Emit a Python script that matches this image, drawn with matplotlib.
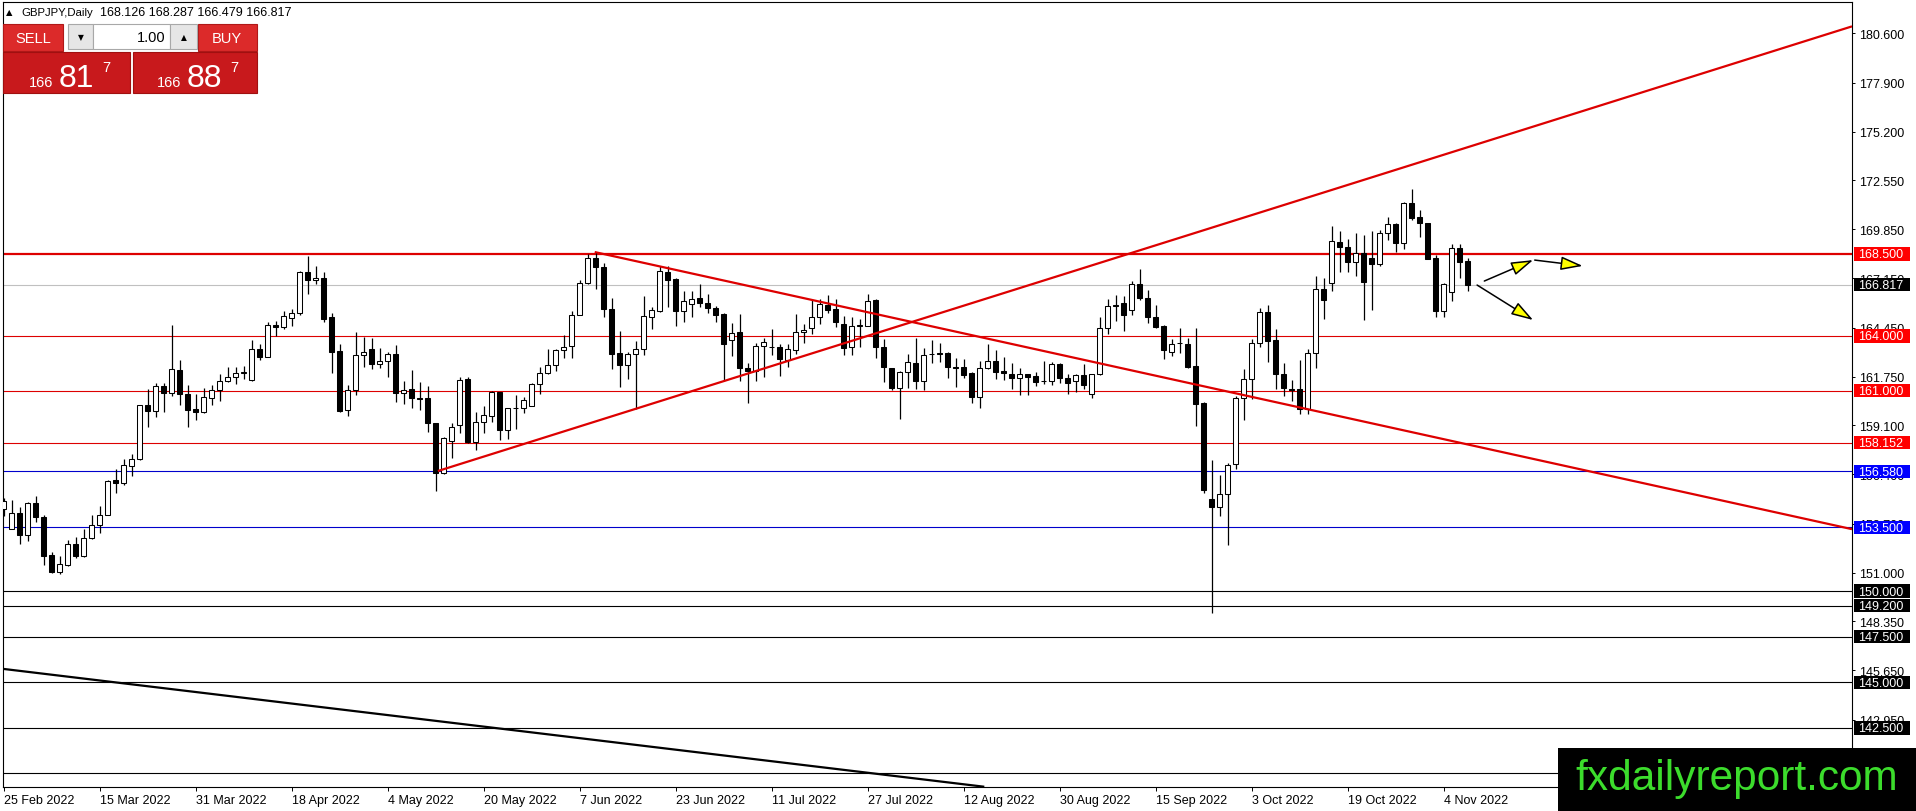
import matplotlib
matplotlib.use("Agg")
import matplotlib.pyplot as plt
import matplotlib.patches as mpatches
from matplotlib.transforms import blended_transform_factory
import pandas as pd

plt.rcParams['font.family'] = ['Liberation Sans', 'DejaVu Sans']

W, H = 1916, 812

# daily GBPJPY candles, 25 Feb 2022 .. 9 Nov 2022
opens = [154.53, 153.43, 154.31, 153.10, 154.86, 154.09, 152.00, 151.05, 151.44, 152.61,
         151.93, 152.94, 153.63, 154.20, 156.08, 155.94, 156.87, 157.23, 160.20, 159.89,
         161.28, 160.87, 162.15, 160.84, 159.98, 159.85, 160.62, 161.02, 161.55, 161.77,
         161.95, 161.59, 163.29, 162.87, 164.59, 164.48, 164.97, 165.23, 167.49, 167.04,
         167.17, 165.03, 163.16, 159.92, 161.02, 162.94, 163.27, 162.48, 162.61, 163.01,
         160.86, 161.08, 160.58, 160.58, 159.21, 156.47, 158.22, 159.10, 161.64, 158.17,
         159.27, 159.61, 160.91, 158.85, 160.03, 160.03, 160.18, 161.35, 161.99, 162.39,
         163.22, 163.47, 165.17, 166.89, 168.26, 167.77, 165.48, 163.05, 162.43, 163.01,
         163.27, 165.03, 165.37, 167.49, 167.13, 165.35, 165.76, 166.07, 165.79, 165.52,
         165.19, 163.78, 164.20, 162.23, 162.10, 163.47, 163.40, 163.40, 162.67, 163.21,
         164.24, 164.46, 165.06, 165.72, 165.50, 164.68, 163.41, 164.57, 164.57, 165.96,
         163.41, 162.23, 161.17, 162.04, 162.54, 161.55, 163.00, 163.08, 163.08, 162.32,
         162.32, 161.99, 160.67, 162.23, 162.63, 162.10, 161.90, 161.71, 161.90, 161.81,
         161.55, 161.50, 162.45, 161.71, 161.50, 161.84, 160.84, 161.90, 164.46, 165.72,
         165.79, 165.44, 166.87, 166.10, 165.06, 164.55, 163.14, 163.60, 163.58, 162.34,
         160.32, 155.08, 154.64, 155.35, 156.96, 160.58, 161.62, 163.63, 165.33, 163.76,
         161.93, 161.10, 161.07, 159.98, 163.05, 166.58, 166.93, 169.16, 168.87, 168.08,
         168.54, 168.26, 167.93, 169.63, 170.15, 169.09, 171.28, 170.55, 170.18, 168.26,
         165.34, 166.40, 168.81, 168.126]
highs = [155.13, 154.99, 154.64, 154.90, 155.21, 154.18, 152.17, 151.95, 152.79, 152.96,
         153.39, 154.16, 154.67, 156.12, 156.69, 157.23, 157.51, 160.23, 161.07, 161.40,
         161.44, 164.59, 162.70, 161.33, 160.82, 161.17, 161.29, 161.93, 162.28, 162.30,
         162.35, 163.78, 163.56, 164.77, 164.84, 165.37, 165.50, 167.55, 168.39, 167.84,
         167.49, 165.25, 163.54, 161.31, 164.20, 163.93, 163.86, 163.36, 163.14, 163.51,
         161.53, 162.14, 161.46, 161.28, 159.25, 158.44, 159.21, 161.77, 161.73, 159.85,
         160.14, 160.97, 160.95, 160.05, 160.77, 160.67, 161.41, 162.32, 163.27, 163.29,
         164.04, 165.39, 167.07, 168.48, 168.61, 168.02, 166.07, 164.26, 163.11, 163.73,
         166.18, 165.56, 167.84, 167.81, 167.15, 166.47, 166.45, 166.85, 166.29, 165.65,
         165.25, 164.73, 165.20, 162.54, 163.60, 163.91, 164.40, 163.54, 163.54, 165.19,
         164.68, 166.01, 166.01, 166.23, 166.01, 165.10, 165.06, 164.95, 166.32, 166.05,
         163.85, 162.25, 162.05, 163.03, 163.91, 163.31, 163.80, 163.63, 163.10, 162.77,
         162.74, 162.01, 162.61, 163.54, 163.21, 162.87, 162.50, 162.26, 161.92, 162.03,
         162.63, 162.57, 162.50, 161.90, 161.90, 162.45, 161.92, 165.06, 166.01, 166.27,
         166.21, 167.00, 167.66, 166.50, 165.68, 164.59, 163.82, 164.42, 163.91, 164.42,
         160.40, 157.20, 156.36, 157.05, 160.71, 162.17, 163.85, 165.55, 165.68, 164.40,
         162.54, 161.59, 162.67, 163.27, 167.26, 167.17, 170.04, 169.76, 169.30, 169.63,
         169.54, 169.76, 169.82, 170.55, 170.17, 171.32, 172.07, 170.91, 170.22, 168.45,
         166.93, 169.03, 169.05, 168.287]
lows = [154.13, 153.40, 152.61, 152.77, 153.80, 151.44, 150.98, 150.93, 151.38, 151.82,
        151.88, 152.88, 153.21, 154.16, 155.37, 155.81, 156.32, 157.20, 159.01, 159.56,
        159.83, 160.71, 160.20, 159.01, 159.39, 159.79, 160.20, 160.43, 161.48, 161.35,
        161.62, 161.55, 162.69, 162.85, 164.00, 164.37, 164.57, 165.12, 166.31, 166.85,
        164.75, 161.99, 159.85, 159.58, 160.78, 162.32, 162.21, 162.26, 161.72, 160.40,
        160.24, 160.07, 159.94, 158.75, 155.52, 156.41, 157.33, 158.66, 158.11, 157.75,
        158.66, 159.30, 158.30, 158.33, 158.90, 159.76, 160.18, 160.82, 161.92, 162.05,
        162.81, 162.81, 165.15, 166.85, 166.60, 165.06, 162.17, 161.22, 161.66, 159.98,
        162.98, 164.40, 165.30, 165.61, 164.57, 164.75, 165.06, 165.61, 165.28, 164.75,
        161.53, 162.92, 161.53, 160.34, 161.53, 161.75, 162.96, 161.81, 162.32, 163.03,
        163.63, 164.13, 164.68, 165.28, 164.49, 162.96, 162.96, 163.41, 164.57, 162.79,
        161.48, 161.02, 159.43, 161.17, 161.11, 161.04, 162.54, 162.57, 161.68, 161.22,
        161.71, 160.34, 160.07, 162.17, 161.66, 161.59, 161.07, 160.76, 160.76, 161.26,
        161.35, 161.31, 161.40, 160.84, 160.93, 161.11, 160.62, 161.88, 164.09, 164.82,
        164.27, 165.13, 165.99, 164.73, 164.42, 162.72, 162.90, 163.09, 162.23, 159.06,
        155.41, 148.82, 154.13, 152.54, 156.69, 159.39, 160.56, 163.40, 162.57, 161.07,
        160.71, 160.43, 159.70, 159.70, 162.26, 164.93, 166.49, 167.53, 167.53, 167.29,
        164.88, 165.43, 167.81, 169.27, 168.63, 168.79, 170.37, 169.40, 168.21, 165.04,
        165.06, 165.94, 167.20, 166.479]
closes = [154.95, 154.31, 153.10, 154.86, 154.09, 151.93, 151.05, 151.51, 152.61, 151.93,
          152.94, 153.63, 154.20, 156.06, 155.94, 156.94, 157.27, 160.20, 159.89, 161.28,
          160.87, 162.21, 160.82, 159.94, 159.85, 160.67, 161.02, 161.55, 161.77, 161.99,
          162.00, 163.29, 162.87, 164.59, 164.48, 165.08, 165.26, 167.49, 167.04, 167.17,
          164.95, 163.14, 159.89, 161.02, 162.94, 163.11, 162.48, 162.61, 163.01, 160.86,
          161.02, 160.58, 160.56, 159.21, 156.47, 158.41, 159.03, 161.57, 158.17, 159.27,
          159.67, 160.91, 158.85, 160.03, 160.05, 160.47, 161.35, 161.99, 162.39, 163.22,
          163.38, 165.17, 166.89, 168.26, 167.77, 165.48, 163.03, 162.43, 163.01, 163.27,
          165.08, 165.41, 167.57, 167.09, 165.35, 165.90, 166.05, 165.79, 165.52, 165.14,
          163.54, 164.15, 162.23, 162.10, 163.47, 163.69, 163.38, 162.72, 163.27, 164.24,
          164.31, 165.06, 165.77, 165.43, 164.79, 163.31, 164.57, 164.58, 165.92, 163.40,
          162.30, 161.17, 162.03, 162.59, 161.55, 162.96, 163.03, 163.03, 162.32, 162.26,
          161.84, 160.67, 162.26, 162.63, 162.04, 161.99, 161.71, 161.90, 161.77, 161.48,
          161.53, 162.45, 161.68, 161.40, 161.84, 161.31, 161.90, 164.46, 165.66, 165.64,
          165.15, 166.87, 166.07, 165.04, 164.49, 163.21, 163.58, 163.62, 162.30, 160.29,
          155.55, 154.64, 155.35, 156.93, 160.58, 161.62, 163.63, 165.33, 163.73, 161.93,
          161.17, 161.05, 159.98, 163.05, 166.60, 165.98, 169.21, 168.90, 168.08, 168.54,
          166.98, 167.93, 169.63, 170.15, 169.09, 171.28, 170.49, 170.18, 168.24, 165.34,
          166.84, 168.81, 168.08, 166.817]

first_day = '2022-02-25'
label_step = 12

# horizontal levels
red_levels = [168.5, 164.0, 161.0, 158.152]
blue_levels = [156.58, 153.5]
black_levels = [150.0, 149.2, 147.5, 145.0, 142.5, 140.0]
last_price = 166.817

price_ticks = [180.6, 177.9, 175.2, 172.55, 169.85, 167.15, 164.45, 161.75, 159.1,
               156.4, 153.7, 151.0, 148.35, 145.65, 142.95, 140.25]

# trend lines as (bar index, price) end points
rising_line = ([54.3, 231.06], [156.59, 180.98])
falling_line = ([73.9, 231.06], [168.6, 153.4])
lower_line = ([-0.125, 122.6], [145.74, 139.27])

# forecast arrows (bar index, price)
arrows = [((185.1, 167.01), (191.2, 168.16)),
          ((191.4, 168.16), (197.4, 167.84)),
          ((184.2, 166.79), (191.2, 164.87))]

header_symbol = 'GBPJPY,Daily'
header_ohlc = '168.126 168.287 166.479 166.817'
lot_size = '1.00'
bid_parts = ('166', '81', '7')
ask_parts = ('166', '88', '7')
site = 'fxdailyreport.com'

fig = plt.figure(figsize=(W / 100, H / 100), dpi=100)
ax = fig.add_axes([2.5 / W, 1 - 787.7 / H, (1852 - 2.5) / W, (787.7 - 2.7) / H])

n = len(opens)
idx = list(range(n))

# wicks and bodies
ax.vlines(idx, lows, highs, color='black', lw=0.9, zorder=3)
bottoms = [min(o, c) for o, c in zip(opens, closes)]
heights = [max(abs(c - o), 0.02) for o, c in zip(opens, closes)]
colors = ['white' if c >= o else 'black' for o, c in zip(opens, closes)]
ax.bar(idx, heights, 0.56, bottoms, color=colors, edgecolor='black', lw=0.75, zorder=4)

# level lines
for i, p in enumerate(red_levels):
    ax.axhline(p, color='#dd0000', lw=1.6 if i == 0 else 0.8, zorder=2)
for p in blue_levels:
    ax.axhline(p, color='#0000cc', lw=0.8, zorder=2)
for p in black_levels:
    ax.axhline(p, color='black', lw=0.8, zorder=2)
ax.axhline(last_price, color='#c0c0c0', lw=0.8, zorder=1)

# trend lines
ax.plot(*rising_line, color='#dd0000', lw=1.6, zorder=5, solid_capstyle='butt')
ax.plot(*falling_line, color='#dd0000', lw=1.6, zorder=5, solid_capstyle='butt')
ax.plot(*lower_line, color='black', lw=1.6, zorder=5, solid_capstyle='butt')

for start, end in arrows:
    ax.annotate('', xy=end, xytext=start, zorder=6,
                arrowprops=dict(arrowstyle='-|>,head_length=0.9,head_width=0.28',
                                mutation_scale=15, fc='#ffff00', ec='black', lw=1.1,
                                shrinkA=0, shrinkB=0))

# axes, ticks
ax.set_xlim(-0.125, 231.06)
ax.set_ylim(139.273, 182.333)
for s in ax.spines.values():
    s.set_linewidth(0.8)
    s.set_color('black')

ax.yaxis.tick_right()
ax.set_yticks(price_ticks)
ax.set_yticklabels([f'{t:.3f}' for t in price_ticks])
ax.tick_params(axis='y', direction='out', length=2.2, width=0.7, pad=3, labelsize=9)

dates = pd.bdate_range(first_day, periods=n)
ax.set_xticks(idx[::label_step])
ax.set_xticklabels([f'{d.day} {d:%b %Y}' for d in dates[::label_step]], ha='left')
ax.tick_params(axis='x', direction='out', length=3, width=0.7, pad=2, labelsize=9)

# price tags on the right scale
tb = blended_transform_factory(fig.transFigure, ax.transData)


def price_tag(p, color):
    ax.add_patch(mpatches.Rectangle((1854 / W, p - 0.365), 56 / W, 0.73, transform=tb,
                                    facecolor=color, edgecolor='none', clip_on=False, zorder=8))
    ax.text(1858.5 / W, p - 0.02, f'{p:.3f}', transform=tb, color='white', fontsize=9,
            va='center', ha='left', clip_on=False, zorder=9)


for p in red_levels:
    price_tag(p, '#ff0000')
for p in blue_levels:
    price_tag(p, '#0000ff')
for p in black_levels:
    price_tag(p, 'black')
price_tag(last_price, 'black')


# header and one-click trading panel (figure pixels)
def fx(x):
    return x / W


def fy(y):
    return 1 - y / H


def box(x0, y0, x1, y1, fc, ec='none', z=10, lw=0.8):
    fig.add_artist(mpatches.Rectangle((fx(x0), fy(y1)), (x1 - x0) / W, (y1 - y0) / H,
                                      transform=fig.transFigure, facecolor=fc,
                                      edgecolor=ec, lw=lw, zorder=z))


fig.text(fx(6), fy(13), '▲', fontsize=6, family='DejaVu Sans', va='center', zorder=11)
fig.text(fx(21), fy(13), header_symbol, fontsize=8.2, va='center', zorder=11)
fig.text(fx(100), fy(13), header_ohlc, fontsize=9, va='center', zorder=11)

box(3, 25, 63, 52, '#dc2a2a', '#b01818')
box(198, 25, 257, 52, '#dc2a2a', '#b01818')
box(68, 25, 93, 50, '#e6e6e6', '#a8a8a8')
box(93, 25, 170, 50, 'white', '#a8a8a8')
box(170, 25, 197, 50, '#e6e6e6', '#a8a8a8')
box(3, 53, 130, 94, '#c8191c', '#a01010')
box(133, 53, 257, 94, '#c8191c', '#a01010')

fig.text(fx(33), fy(39), 'SELL', fontsize=10.5, color='white', ha='center', va='center', zorder=11)
fig.text(fx(227), fy(39), 'BUY', fontsize=10.5, color='white', ha='center', va='center', zorder=11)
fig.text(fx(166), fy(38), lot_size, fontsize=10.5, color='black', ha='right', va='center', zorder=11)
fig.text(fx(80.5), fy(38), '▼', fontsize=5.5, family='DejaVu Sans', ha='center', va='center', zorder=11)
fig.text(fx(183.5), fy(38), '▲', fontsize=5.5, family='DejaVu Sans', ha='center', va='center', zorder=11)

for parts, x0 in ((bid_parts, 29), (ask_parts, 157)):
    fig.text(fx(x0), fy(87), parts[0], fontsize=10.5, color='white', va='baseline', zorder=11)
    fig.text(fx(x0 + 30), fy(87), parts[1], fontsize=23, color='white', va='baseline', zorder=11)
    fig.text(fx(x0 + 73), fy(72), parts[2], fontsize=10.5, color='white', va='baseline', zorder=11)

# watermark
box(1558, 749, 1916, 812, 'black', z=20)
fig.text(fx(1575), fy(790), site, fontsize=30.5, color='#3cdc2c', va='baseline', zorder=21)

fig.savefig('out.png', dpi=100)
